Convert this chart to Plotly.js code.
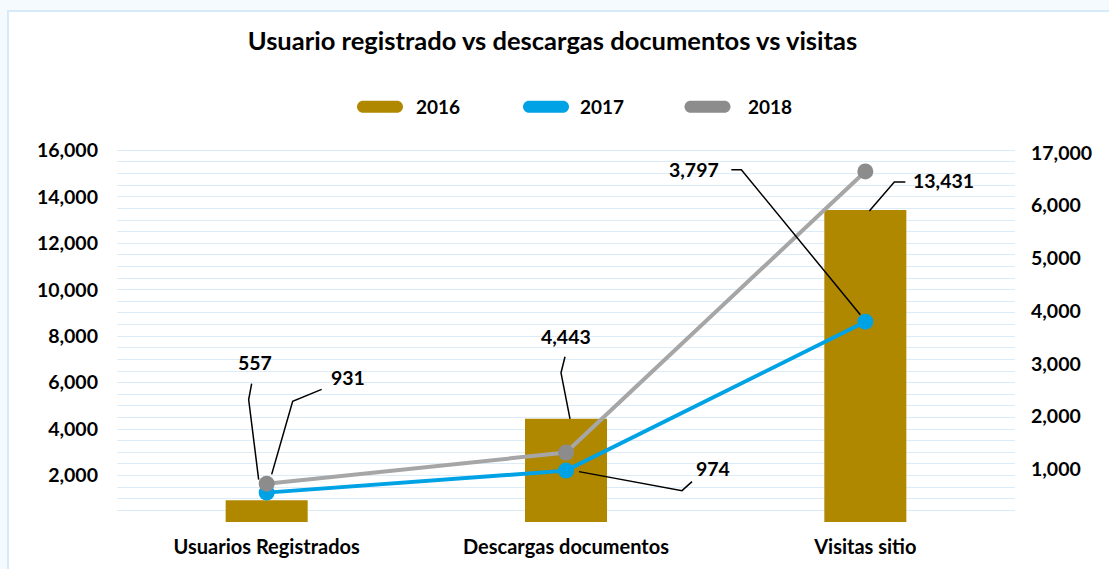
<!DOCTYPE html>
<html><head><meta charset="utf-8">
<script src="https://cdn.plot.ly/plotly-3.0.1.min.js"></script>
<style>html,body{margin:0;padding:0;background:#fff}#chart{width:1109px;height:569px}</style>
</head><body><div id="chart"></div>
<script>
// ---- data ----
const categories = ['Usuarios Registrados', 'Descargas documentos', 'Visitas sitio'];
const years = ['2016', '2017', '2018'];
const values2016 = [931, 4443, 13431];
const values2017 = [557, 974, 3797];
const values2018 = [727, 1316, 6646];
const leftTickVals = [2000, 4000, 6000, 8000, 10000, 12000, 14000, 16000];
const leftTickText = ['2,000', '4,000', '6,000', '8,000', '10,000', '12,000', '14,000', '16,000'];
const rightTickVals = [1000, 2000, 3000, 4000, 5000, 6000, 7000];
const rightTickText = ['1,000', '2,000', '3,000', '4,000', '5,000', '6,000', '17,000'];

// ---- style ----
const W = 1109, H = 569;
const M = {l: 117, r: 94, t: 148, b: 47};
const PW = W - M.l - M.r, PH = H - M.t - M.b;
const px2x = p => (p - M.l) / PW;
const py2y = p => (H - M.b - p) / PH;
const FONT = 'Lato, "Open Sans", sans-serif';
const C2016 = '#B08800', C2017 = '#00A2E6', C2018L = '#A6A6A6', C2018M = '#8C8C8C';
const GRID = '#DCEBF8';
const fmt = v => v.toLocaleString('en-US');
const bold = (size) => ({family: FONT, size: size, color: '#000', weight: 700});

const traces = [
  {type: 'bar', name: years[0], x: categories, y: values2016, yaxis: 'y',
   marker: {color: C2016}, width: 0.274, hoverinfo: 'none', showlegend: false},
  {type: 'scatter', mode: 'lines+markers', name: years[1], x: categories, y: values2017, yaxis: 'y2',
   line: {color: C2017, width: 4}, marker: {color: C2017, size: 16}, hoverinfo: 'none', showlegend: false},
  {type: 'scatter', mode: 'lines+markers', name: years[2], x: categories, y: values2018, yaxis: 'y2',
   line: {color: C2018L, width: 4}, marker: {color: C2018M, size: 16}, hoverinfo: 'none', showlegend: false}
];

// data labels: [series values, index, yref, dx, dy(up), leader path in px relative to point]
const labelDefs = [
  [values2017, 0, 'y2', -12, 130, 'M-15,109 L-18,93 L-8,13'],
  [values2016, 0, 'y', 81, 123, 'M55,111 L26,99 L5,26'],
  [values2016, 1, 'y', 0, 82, 'M-1,62 L-5,46 L4,0'],
  [values2017, 1, 'y2', 147, 2, 'M126,-11 L116,-20 L13,-1'],
  [values2017, 2, 'y2', -171, 152, 'M-134,152 L-124,152 L-5,7'],
  [values2016, 2, 'y', 78, 30, 'M40,28 L29,28 L4,-1']
];

const annotations = [];
const shapes = [];

// outer frame
shapes.push({type: 'rect', xref: 'paper', yref: 'paper', layer: 'below',
  x0: px2x(8), x1: px2x(1125), y0: py2y(11), y1: py2y(590),
  fillcolor: '#FFFFFF', line: {color: '#D6EAF9', width: 2}});

labelDefs.forEach(([arr, i, yref, dx, dy, path]) => {
  annotations.push({x: categories[i], y: arr[i], xref: 'x', yref: yref, text: fmt(arr[i]),
    showarrow: false, xshift: dx, yshift: dy, font: bold(19.5)});
  shapes.push({type: 'path', xref: 'x', yref: yref, xsizemode: 'pixel', ysizemode: 'pixel',
    xanchor: categories[i], yanchor: arr[i], path: path, line: {color: '#000', width: 1.5}});
});

// custom legend (rounded swatches)
const pill = 'M-17,6 L17,6 C20.3,6 23,3.3 23,0 C23,-3.3 20.3,-6 17,-6 L-17,-6 C-20.3,-6 -23,-3.3 -23,0 C-23,3.3 -20.3,6 -17,6 Z';
const legendItems = [[years[0], C2016, 380, 414], [years[1], C2017, 546, 578], [years[2], C2018M, 707.5, 746]];
legendItems.forEach(([name, col, cx, tx]) => {
  shapes.push({type: 'path', xref: 'paper', yref: 'paper', xsizemode: 'pixel', ysizemode: 'pixel',
    xanchor: px2x(cx), yanchor: py2y(106.7), path: pill, fillcolor: col, line: {width: 0}});
  annotations.push({xref: 'paper', yref: 'paper', x: px2x(tx), y: py2y(106.7), xanchor: 'left', yanchor: 'middle',
    text: name, showarrow: false, font: bold(19)});
});

const layout = {
  width: W, height: H, margin: {l: M.l, r: M.r, t: M.t, b: M.b, pad: 0},
  paper_bgcolor: '#F5FAFE', plot_bgcolor: 'rgba(0,0,0,0)',
  title: {text: 'Usuario registrado vs descargas documentos vs visitas', font: bold(25.5),
    x: px2x(552.5), xanchor: 'center', y: 1 - 41 / H, yanchor: 'middle', xref: 'paper', yref: 'container'},
  showlegend: false,
  xaxis: {type: 'category', range: [-0.5, 2.5], showgrid: false, zeroline: false, showline: false,
    ticks: '', tickfont: bold(20), ticklabelstandoff: 11},
  yaxis: {range: [0, 16100], tickmode: 'array', tickvals: leftTickVals, ticktext: leftTickText,
    showgrid: true, gridcolor: GRID, gridwidth: 1, zeroline: false, showline: false, ticks: '',
    tickfont: bold(19.5), ticklabelstandoff: 18,
    minor: {tickmode: 'linear', tick0: 0, dtick: 500, showgrid: true, gridcolor: GRID, gridwidth: 1, ticks: ''}},
  yaxis2: {overlaying: 'y', side: 'right', range: [0, 7090], tickmode: 'array', tickvals: rightTickVals,
    ticktext: rightTickText, showgrid: false, zeroline: false, showline: false, ticks: '',
    tickfont: bold(19.5), ticklabelstandoff: 15},
  annotations: annotations,
  shapes: shapes
};

Plotly.newPlot('chart', traces, layout, {displayModeBar: false, staticPlot: true});
</script>
</body></html>
